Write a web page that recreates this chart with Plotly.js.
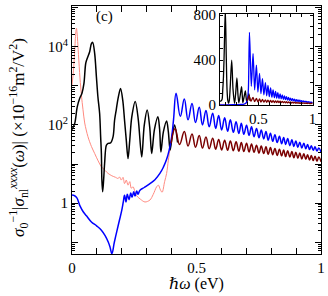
<!DOCTYPE html>
<html><head><meta charset="utf-8">
<script src="https://cdn.plot.ly/plotly-3.0.1.min.js"></script>
<style>html,body{margin:0;padding:0;background:#fff}#plot{width:328px;height:296px}</style>
</head><body><div id="plot"></div>
<script>
// photon energy (eV) and log10 of sigma0^-1 |sigma_nl| (x 1e-16 m^2/V^2)
const blackW = [0,0.011,0.021,0.031,0.040,0.048,0.055,0.061,0.071,0.078,0.083,0.091,0.098,0.104,0.111,0.115,0.118,0.120,0.123,0.127,0.131,0.138,0.145,0.155,0.165,0.171,0.178,0.185,0.195,0.204,0.211,0.218,0.225,0.232,0.240,0.254,0.266,0.280,0.290,0.302,0.312,0.320,0.331,0.345,0.352,0.357,0.367,0.380,0.387,0.394,0.403,0.412,0.424];
const blackLog = [1.88,2.04,2.46,2.68,2.81,3.06,3.57,3.70,3.87,4.08,4.11,3.83,3.23,2.72,2.29,1.70,1.27,0.59,0.29,0.59,1.02,1.48,1.53,1.54,1.70,2.12,2.40,2.68,2.93,2.62,2.12,1.61,1.14,1.61,2.20,2.60,2.15,1.18,1.98,2.38,1.95,1.27,1.88,2.21,1.88,1.31,1.82,2.10,1.82,1.36,1.74,2.00,1.55];

const redW = [0,0.006,0.011,0.015,0.018,0.021,0.026,0.032,0.038,0.044,0.051,0.064,0.078,0.091,0.105,0.118,0.132,0.145,0.160,0.175,0.185,0.191,0.198,0.205,0.211,0.218,0.225,0.232,0.238,0.245,0.258,0.275,0.293,0.313,0.326,0.340,0.347,0.355,0.362,0.372,0.380,0.387,0.394,0.398];
const redLog = [3.02,3.40,3.90,4.35,4.47,4.30,3.80,3.20,2.75,2.40,2.05,1.70,1.45,1.27,1.08,0.93,0.84,0.76,0.70,0.66,0.63,0.67,0.59,0.66,0.50,0.59,0.46,0.55,0.38,0.42,0.20,0.10,0.03,0.08,0.22,0.42,0.46,0.34,0.28,0.55,0.76,1.10,1.40,1.53];

const blueW = [0,0.010,0.019,0.032,0.045,0.059,0.078,0.099,0.118,0.133,0.146,0.153,0.160,0.170,0.180,0.190,0.200,0.206,0.211,0.217,0.222,0.229,0.236,0.241,0.248,0.253,0.260,0.265,0.273,0.290,0.313,0.333,0.353,0.367,0.380,0.390,0.400,0.408,
 0.418,0.435,0.451,0.466,0.482,0.496,0.511,0.524,0.538,0.551,0.565,0.577,0.589,0.601,0.613,0.625,0.636,0.648,0.659,0.670,0.680,0.690,0.701,0.711,0.721,0.731,0.741,0.751,0.760,0.770,0.779,0.788,0.797,0.806,0.815,0.824,0.833,0.842,0.850,0.858,0.866,0.875,0.883,0.891,0.899,0.907,0.915,0.923,0.931,0.939,0.946,0.954,0.961,0.969,0.976,0.984,0.991,1.000];
const blueLog = [0.21,0.19,0.14,-0.07,-0.22,-0.33,-0.48,-0.58,-0.69,-0.83,-1.00,-1.13,-1.29,-1.00,-0.72,-0.45,-0.18,0.03,0.20,0.03,0.23,0.09,0.26,0.15,0.29,0.18,0.31,0.23,0.33,0.40,0.50,0.60,0.76,0.92,1.12,1.35,1.68,2.15,
 2.81,2.22,2.66,2.13,2.55,2.06,2.45,2.00,2.37,1.95,2.30,1.91,2.24,1.87,2.18,1.84,2.13,1.81,2.08,1.78,2.04,1.76,1.99,1.73,1.95,1.70,1.91,1.67,1.87,1.64,1.83,1.61,1.79,1.58,1.75,1.55,1.71,1.52,1.68,1.50,1.65,1.47,1.62,1.45,1.59,1.43,1.56,1.41,1.53,1.39,1.50,1.37,1.47,1.35,1.44,1.33,1.41,1.31];

const darkW = [0.398,0.414,0.432,0.451,0.466,0.482,0.496,0.511,0.524,0.538,0.551,0.565,0.577,0.589,0.601,0.613,0.625,0.636,0.648,0.659,0.670,0.680,0.690,0.701,0.711,0.721,0.731,0.741,0.751,0.760,0.770,0.779,0.788,0.797,0.806,0.815,0.824,0.833,0.842,0.850,0.858,0.866,0.875,0.883,0.891,0.899,0.907,0.915,0.923,0.931,0.939,0.946,0.954,0.961,0.969,0.976,0.984,0.991,1.000];
const darkLog = [1.53,1.91,1.50,1.83,1.46,1.77,1.43,1.73,1.41,1.69,1.39,1.66,1.38,1.63,1.36,1.61,1.35,1.59,1.34,1.57,1.33,1.55,1.32,1.53,1.31,1.51,1.30,1.48,1.28,1.46,1.27,1.44,1.25,1.42,1.24,1.40,1.22,1.38,1.21,1.36,1.19,1.34,1.18,1.32,1.16,1.30,1.15,1.28,1.13,1.26,1.12,1.24,1.10,1.22,1.09,1.20,1.07,1.18,1.06];

const mainYTickVals = [1, 100, 10000];
const mainYTickText = ['1', '10<sup>2</sup>', '10<sup>4</sup>'];
const mainYOddDecades = [0.1, 10, 1000, 100000];
const mainXTickVals = [0, 0.5, 1];
const mainXTickText = ['0', '0.5', '1'];
const insetXTickVals = [0.5, 1.0];
const insetXTickText = ['0.5', '1'];
const insetXMinor = [0.2, 0.3, 0.4, 0.6, 0.7, 0.8, 0.9];
const insetYTickVals = [0, 400, 800];
const insetYTickText = ['0', '400', '800'];
const insetYMinor = [100, 200, 300, 500, 600, 700];

const lin = a => a.map(v => Math.pow(10, v));
const FONT = '"Liberation Serif", "DejaVu Serif", serif';

const series = [
  {w: redW, l: redLog, color: '#ff8a80', width: 1.0, iw: 1.0, sm: 0.9},
  {w: blackW, l: blackLog, color: '#000000', width: 1.5, iw: 1.3, sm: 0.9},
  {w: blueW, l: blueLog, color: '#0000ff', width: 1.5, iw: 1.3, sm: 1.2},
  {w: darkW, l: darkLog, color: '#7a0000', width: 1.5, iw: 1.3, sm: 1.2}
];
const traces = [];
series.forEach(s => {
  traces.push({x: s.w, y: lin(s.l), type: 'scatter', mode: 'lines', xaxis: 'x', yaxis: 'y',
    line: {color: s.color, width: s.width, shape: 'spline', smoothing: s.sm}, hoverinfo: 'skip'});
});
series.forEach(s => {
  traces.push({x: s.w, y: lin(s.l), type: 'scatter', mode: 'lines', xaxis: 'x2', yaxis: 'y2',
    line: {color: s.color, width: s.iw, shape: 'spline', smoothing: 0.8}, hoverinfo: 'skip'});
});

const minorLog = [];
for (let e = -2; e <= 5; e++) for (let m = 2; m <= 9; m++) minorLog.push(m * Math.pow(10, e));

const axisCommon = {showline: true, linecolor: '#000', linewidth: 1, mirror: 'allticks', ticks: 'inside',
  tickcolor: '#000', showgrid: false, zeroline: false, tickfont: {family: FONT, size: 15, color: '#000'}};

const layout = {
  width: 328, height: 296,
  margin: {l: 72, r: 7, t: 6, b: 42, pad: 0},
  paper_bgcolor: '#fff', plot_bgcolor: '#fff',
  showlegend: false,
  font: {family: FONT, color: '#000'},
  xaxis: Object.assign({}, axisCommon, {domain: [0, 1], range: [0, 1], tickmode: 'array', tickvals: mainXTickVals,
    ticktext: mainXTickText, ticklen: 6, minor: {dtick: 0.1, tick0: 0, ticklen: 3, ticks: 'inside', tickcolor: '#000'}}),
  yaxis: Object.assign({}, axisCommon, {type: 'log', domain: [0, 1], range: [-1.3, 5.04], tickmode: 'array',
    tickvals: mainYTickVals, ticktext: mainYTickText, ticklen: 6,
    minor: {tickmode: 'array', tickvals: minorLog, ticklen: 3, ticks: 'inside', tickcolor: '#000'}}),
  yaxis3: {type: 'log', overlaying: 'y', anchor: 'x', side: 'left', range: [-1.3, 5.04], tickmode: 'array',
    tickvals: mainYOddDecades, showticklabels: false, ticks: 'inside', ticklen: 6, tickcolor: '#000',
    showline: true, linecolor: '#000', linewidth: 1, mirror: 'allticks', showgrid: false, zeroline: false},
  xaxis2: Object.assign({}, axisCommon, {domain: [0.594, 0.968], anchor: 'y2', range: [0.145, 1.005], tickmode: 'array',
    tickvals: insetXTickVals, ticktext: insetXTickText, ticklen: 3,
    minor: {tickmode: 'array', tickvals: insetXMinor, ticklen: 3, ticks: 'inside', tickcolor: '#000'}}),
  yaxis2: Object.assign({}, axisCommon, {domain: [0.601, 0.968], anchor: 'x2', range: [0, 810], tickmode: 'array',
    tickvals: insetYTickVals, ticktext: insetYTickText, ticklen: 3,
    minor: {tickmode: 'array', tickvals: insetYMinor, ticklen: 3, ticks: 'inside', tickcolor: '#000'}}),
  annotations: [
    {text: '(c)', xref: 'paper', yref: 'paper', x: 0.1325, y: 0.956, showarrow: false, xanchor: 'center', yanchor: 'middle',
      font: {family: FONT, size: 15, color: '#000'}},
    {text: '<i>σ</i><sub>0</sub><sup>−1</sup>|<i>σ</i><sub>nl</sub><sup><i>xxxx</i></sup>(<i>ω</i>)| (×10<sup>−16</sup>m<sup>2</sup>/V<sup>2</sup>)',
      xref: 'paper', yref: 'paper', x: -0.215, y: 0.47, textangle: -90, showarrow: false, xanchor: 'center', yanchor: 'middle',
      font: {family: FONT, size: 17, color: '#000'}},
    {text: '<i>ℏω</i> (eV)', xref: 'paper', yref: 'paper', x: 0.5, y: -0.121, showarrow: false, xanchor: 'center', yanchor: 'middle',
      font: {family: FONT, size: 16, color: '#000'}}
  ]
};

Plotly.newPlot('plot', [{x: [0.5], y: [1], xaxis: 'x', yaxis: 'y3', mode: 'markers', marker: {opacity: 0}, hoverinfo: 'skip'}].concat(traces), layout, {staticPlot: true, displayModeBar: false});
</script>
</body></html>
